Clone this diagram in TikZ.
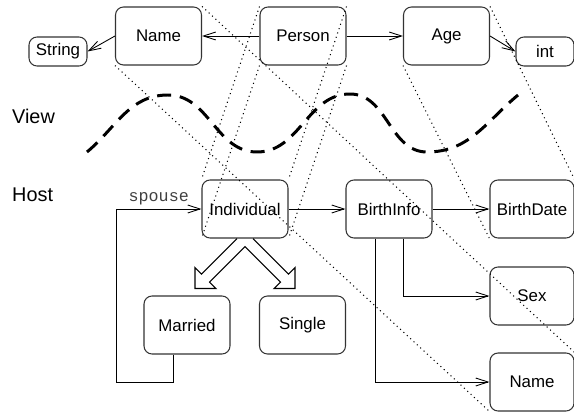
\documentclass[tikz,border=0pt]{standalone}
\usepackage{fontspec}
\setmainfont{Liberation Sans}
\setmonofont{Liberation Mono}
\usetikzlibrary{calc,arrows.meta}

\begin{document}
\begin{tikzpicture}[x=0.02cm, y=0.02cm,
        box/.style={draw=black!80, line width=0.6pt, rounded corners=0.16cm,
            minimum width=1.72cm, minimum height=1.16cm, inner sep=1pt,
            font=\fontsize{9.6}{11}\selectfont},
        smallbox/.style={box, minimum width=1.16cm, minimum height=0.58cm},
        rightbox/.style={box, minimum width=1.68cm},
        conn/.style={line width=0.5pt, -{Straight Barb[length=7pt,width=4.5pt]}},
        proj/.style={dotted, line width=0.6pt},
        wave/.style={line width=1.7pt, dash pattern=on 8pt off 5pt},
        hollow/.style={line width=0.6pt, line join=miter}]

    \useasboundingbox (0,0) rectangle (574,416);

    % Desplazamiento de las salidas bajo un nodo
    \def\d{0.28cm}

    % Vista
    \node[smallbox] (String) at (58,364.5) {String};
    \node[box] (nameV) at (158.5,380) {Name};
    \node[box] (Person) at (303,380) {Person};
    \node[box] (Age) at (446.5,380) {Age};
    \node[smallbox] (int) at (545,364.5) {int};

    \draw[conn] (Person) -- (nameV);
    \draw[conn] (nameV.west) -- (String.east);
    \draw[conn] (Person) -- (Age);
    \draw[conn] (Age.east) -- (int.west);

    % Etiquetas de los niveles
    \node[anchor=west, font=\fontsize{11.3}{13}\selectfont] (view) at (6,300) {View};
    \node[anchor=west, font=\fontsize{11.3}{13}\selectfont] (host) at (6,221) {Host};

    % Frontera entre vista y anfitrion
    \draw[wave] (87,264) to[out=40,in=180] (168,321) to[out=0,in=180] (257,264)
        to[out=0,in=180] (350,322) to[out=0,in=180] (427,264)
        to[out=0,in=220] (518,321);

    % Anfitrion
    \node[box] (Individual) at (245,207) {Individual};
    \node[box] (BirthInfo) at (389,207) {BirthInfo};
    \node[rightbox] (BirthDate) at (532,207) {BirthDate};
    \node[rightbox] (Sex) at (532,120) {Sex};
    \node[rightbox] (nameH) at (532,34) {Name};
    \node[box] (Married) at (187,91) {Married};
    \node[box] (Single) at (302.5,91) {Single};

    \draw[conn] (Individual) -- (BirthInfo);
    \draw[conn] (BirthInfo) -- (BirthDate);
    \draw[conn] ([xshift=\d]BirthInfo.south) |- (Sex.west);
    \draw[conn] ([xshift=-\d]BirthInfo.south) |- (nameH.west);

    % Relacion spouse
    \coordinate (loop) at (116,34);
    \draw[conn] ([xshift=-\d]Married.south) |- (loop) |-
        node[pos=0.75, above, inner sep=2pt, text=black!75,
            font=\ttfamily\fontsize{9.5}{11}\selectfont] {spouse} (Individual.west);

    % Herencia (flechas huecas)
    \begin{scope}[shift={(Individual.south)}]
        \draw[hollow] (-8,0) -- (-43.5,-35.5) -- (-50,-29) -- (-50,-50) -- (-29,-50)
            -- (-35.5,-43.5) -- (0,-8) -- (35.5,-43.5) -- (29,-50) -- (50,-50)
            -- (50,-29) -- (43.5,-35.5) -- (8,0);
    \end{scope}

    % Proyecciones de la vista sobre el anfitrion
    \foreach \a in {north east, north west, south east, south west}
        \draw[proj] (Person.\a) -- (Individual.\a);
    \foreach \a in {north east, south west} {
        \draw[proj] (nameV.\a) -- (nameH.\a);
        \draw[proj] (Age.\a) -- (BirthDate.\a);
    }

\end{tikzpicture}
\end{document}
